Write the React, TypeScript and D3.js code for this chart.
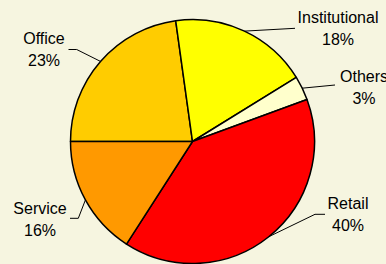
import React from "react";
import * as d3 from "d3";

const categories = ["Office", "Institutional", "Others", "Retail", "Service"];
const values = [22.8, 18.4, 3.2, 39.7, 15.9];
const colors = ["#FFCC00", "#FFFF00", "#FFFFCC", "#FF0000", "#FF9900"];

// label layout: text anchor centre, first baseline, elbow and end of leader line
const labelLayout: Record<string, { x: number; y: number; elbow: [number, number]; end: [number, number] }> = {
  Office: { x: 44, y: 44, elbow: [76.7, 49.5], end: [68.5, 49.5] },
  Institutional: { x: 338, y: 23, elbow: [295, 28.3], end: [295, 28.3] },
  Others: { x: 364, y: 81.5, elbow: [335, 85], end: [335, 85] },
  Retail: { x: 348, y: 208.5, elbow: [315, 214.3], end: [325, 214.3] },
  Service: { x: 40, y: 213.5, elbow: [78.3, 218.3], end: [70, 218.3] },
};

const W = 386;
const H = 264;
const cx = 192.5;
const cy = 141.5;
const R = 122;

export default function App() {
  const data = categories.map((c, i) => ({ c, v: values[i], color: colors[i] }));
  const pie = d3
    .pie<{ c: string; v: number; color: string }>()
    .value((d) => d.v)
    .sort(null)
    .startAngle(-Math.PI / 2)
    .endAngle((3 * Math.PI) / 2);
  const arcs = pie(data);
  const arc = d3.arc<d3.PieArcDatum<any>>().innerRadius(0).outerRadius(R);
  const total = d3.sum(values);

  return (
    <svg
      width={W}
      height={H}
      style={{ position: "fixed", left: 0, top: 0, background: "#F6F5E0" }}
      fontFamily="'Liberation Sans', Arial, sans-serif"
    >
      <rect width={W} height={H} fill="#F6F5E0" />
      <g transform={`translate(${cx},${cy})`}>
        {arcs.map((a) => (
          <path key={a.data.c} d={arc(a) || ""} fill={a.data.color} stroke="#000" strokeWidth={1.5} strokeLinejoin="round" />
        ))}
      </g>
      {arcs.map((a) => {
        const mid = (a.startAngle + a.endAngle) / 2;
        const sx = cx + R * Math.sin(mid);
        const sy = cy - R * Math.cos(mid);
        const L = labelLayout[a.data.c];
        const pct = Math.round((a.data.v / total) * 100);
        return (
          <g key={a.data.c}>
            <polyline
              points={`${sx},${sy} ${L.elbow[0]},${L.elbow[1]} ${L.end[0]},${L.end[1]}`}
              fill="none"
              stroke="#000"
              strokeWidth={1}
            />
            <text x={L.x} y={L.y} textAnchor="middle" fontSize={16} fill="#000">
              {a.data.c}
            </text>
            <text x={L.x} y={L.y + 22} textAnchor="middle" fontSize={16} fill="#000">
              {pct}%
            </text>
          </g>
        );
      })}
    </svg>
  );
}
